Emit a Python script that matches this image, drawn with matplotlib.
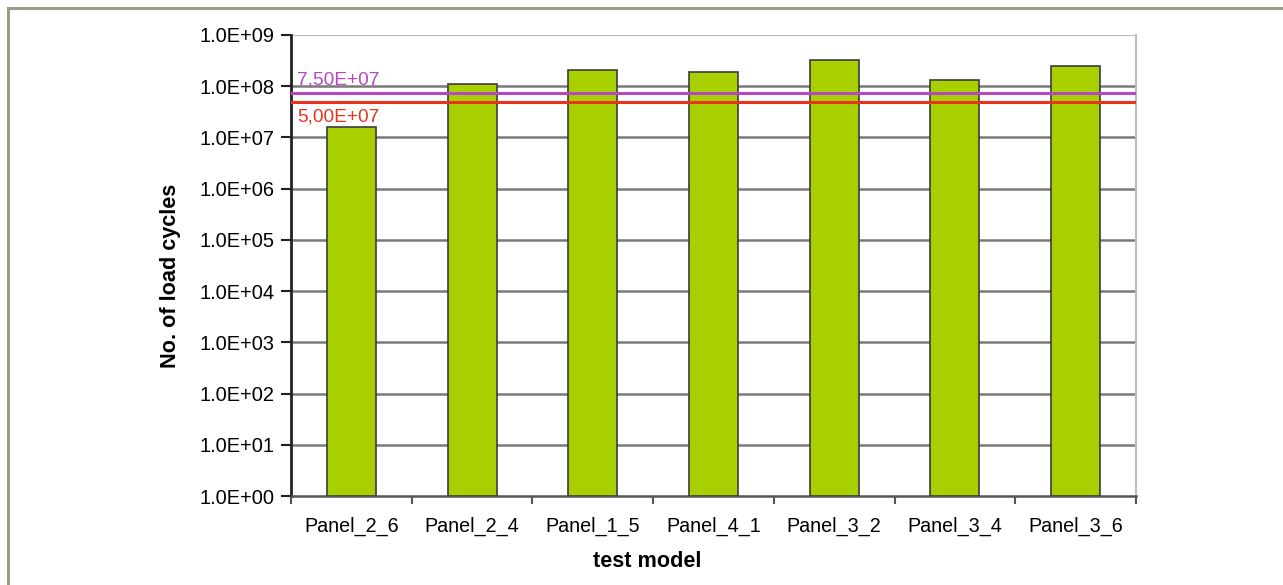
import numpy as np
import matplotlib.pyplot as plt
from matplotlib.patches import Rectangle
from matplotlib.ticker import FixedLocator, FixedFormatter

plt.rcParams['font.family'] = ['Liberation Sans', 'DejaVu Sans']

# test results
panels = ['Panel_2_6', 'Panel_2_4', 'Panel_1_5', 'Panel_4_1', 'Panel_3_2', 'Panel_3_4', 'Panel_3_6']
cycles = [1.58e7, 1.09e8, 2.06e8, 1.91e8, 3.23e8, 1.31e8, 2.47e8]

# reference levels
limit_hi = 7.5e7
limit_lo = 5.0e7
limit_hi_label = '7,50E+07'
limit_lo_label = '5,00E+07'

ytick_vals = [10.0 ** k for k in range(0, 10)]
ytick_labels = ['1.0E+%02d' % k for k in range(0, 10)]

fig = plt.figure(figsize=(12.83, 5.85), dpi=100)
fig.patch.set_facecolor('white')

# outer frame (left and top edges visible)
fig.patches.append(Rectangle((8 / 1283, -0.05), 1.2, 1 - 8 / 585 + 0.05,
                             transform=fig.transFigure, fill=False,
                             edgecolor='#9c9c84', linewidth=2.2, zorder=0))

ax = fig.add_axes([291 / 1283, 1 - 496 / 585, (1136 - 291) / 1283, (496 - 35) / 585])
ax.set_yscale('log')
ax.set_ylim(1, 1e9)
ax.set_xlim(-0.5, len(panels) - 0.5)

x = np.arange(len(panels))
ax.bar(x, cycles, width=0.405, bottom=1, color='#a8d000', edgecolor='#3c3c3c',
       linewidth=1.2, zorder=3)

# grid lines at each decade
for v in ytick_vals[1:-1]:
    ax.axhline(v, color='#7a7a7a', linewidth=1.8, zorder=1)
ax.axhline(1e9, color='#bdbdbd', linewidth=1.5, zorder=1)

ax.axhline(limit_hi, color='#b548c0', linewidth=2.2, zorder=4)
ax.axhline(limit_lo, color='#e8341c', linewidth=2.2, zorder=4)
ax.text(0.007, limit_hi * 1.2, limit_hi_label, transform=ax.get_yaxis_transform(),
        color='#b548c0', fontsize=13.8, va='bottom', ha='left')
ax.text(0.007, limit_lo * 0.72, limit_lo_label, transform=ax.get_yaxis_transform(),
        color='#e8341c', fontsize=13.8, va='top', ha='left')

ax.yaxis.set_major_locator(FixedLocator(ytick_vals))
ax.yaxis.set_major_formatter(FixedFormatter(ytick_labels))
ax.yaxis.set_minor_locator(FixedLocator([]))
ax.tick_params(axis='y', direction='out', length=7, width=1.5, labelsize=14.4,
               color='#222222', pad=5)

ax.set_xticks(x)
ax.set_xticklabels(panels, fontsize=14.2)
ax.set_xticks(np.arange(-0.5, len(panels)), minor=True)
ax.tick_params(axis='x', which='major', length=0, pad=15)
ax.tick_params(axis='x', which='minor', direction='out', length=6, width=1.5,
               color='#555555')

ax.spines['left'].set_color('#222222')
ax.spines['left'].set_linewidth(2)
ax.spines['bottom'].set_color('#555555')
ax.spines['bottom'].set_linewidth(1.8)
ax.spines['right'].set_color('#bdbdbd')
ax.spines['right'].set_linewidth(1.5)
ax.spines['top'].set_visible(False)

ax.set_ylabel('No. of load cycles', fontsize=15.6, fontweight='bold', labelpad=13)
ax.yaxis.label.set_y(0.477)
ax.set_xlabel('test model', fontsize=15.6, fontweight='bold', labelpad=11)
ax.xaxis.label.set_x(0.421)

fig.savefig('out.png', dpi=100)
